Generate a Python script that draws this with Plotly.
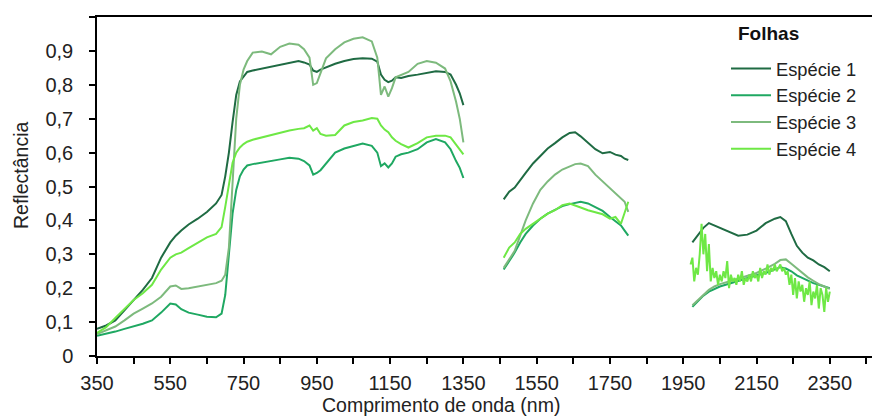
import plotly.graph_objects as go

# ---- data ----
wl_vis = [350, 375, 400, 425, 450, 475, 500, 525, 550, 565, 580, 600, 625, 650, 675, 690, 700, 710,
          720, 730, 740, 750, 760, 775, 800, 825, 850, 875, 900, 915, 930, 940, 950, 960, 975, 1000,
          1025, 1050, 1075, 1100, 1115, 1125, 1135, 1145, 1155, 1165, 1180, 1200, 1225, 1250, 1275,
          1300, 1315, 1330, 1340, 1350]
wl_swir1 = [1460, 1475, 1490, 1505, 1520, 1540, 1560, 1580, 1600, 1620, 1640, 1655, 1670, 1690,
            1710, 1730, 1750, 1765, 1780, 1790, 1800]
wl_swir2 = [1975, 1990, 2005, 2020, 2035, 2050, 2075, 2100, 2125, 2150, 2175, 2200, 2215, 2230,
            2245, 2260, 2275, 2290, 2305, 2320, 2335, 2350]
wl_swir2_fine = [1970, 1975, 1980, 1985, 1990, 1995, 2000, 2005, 2010, 2015, 2020, 2025, 2030, 2035,
                 2040, 2045, 2050, 2055, 2060, 2065, 2070, 2075, 2080, 2085, 2090, 2095, 2100, 2105,
                 2110, 2115, 2120, 2125, 2130, 2135, 2140, 2145, 2150, 2155, 2160, 2165, 2170, 2175,
                 2180, 2185, 2190, 2195, 2200, 2205, 2210, 2215, 2220, 2225, 2230, 2235, 2240, 2245,
                 2250, 2255, 2260, 2265, 2270, 2275, 2280, 2285, 2290, 2295, 2300, 2305, 2310, 2315,
                 2320, 2325, 2330, 2335, 2340, 2345, 2350]

sp1_vis = [0.080, 0.090, 0.105, 0.135, 0.165, 0.195, 0.230, 0.290, 0.335, 0.355, 0.370, 0.388, 0.405,
           0.425, 0.450, 0.475, 0.530, 0.600, 0.690, 0.770, 0.810, 0.825, 0.838, 0.842, 0.848, 0.852,
           0.858, 0.866, 0.870, 0.866, 0.860, 0.842, 0.838, 0.845, 0.852, 0.862, 0.870, 0.876, 0.878,
           0.877, 0.868, 0.830, 0.815, 0.808, 0.812, 0.822, 0.820, 0.826, 0.830, 0.834, 0.840, 0.838,
           0.830, 0.800, 0.775, 0.740]
sp2_vis = [0.060, 0.065, 0.072, 0.080, 0.087, 0.095, 0.105, 0.128, 0.155, 0.152, 0.138, 0.128, 0.122,
           0.116, 0.114, 0.125, 0.180, 0.300, 0.420, 0.490, 0.530, 0.550, 0.562, 0.566, 0.570, 0.574,
           0.580, 0.585, 0.582, 0.575, 0.562, 0.535, 0.540, 0.548, 0.568, 0.600, 0.612, 0.620, 0.627,
           0.620, 0.600, 0.560, 0.568, 0.556, 0.568, 0.588, 0.595, 0.600, 0.610, 0.630, 0.640, 0.630,
           0.610, 0.575, 0.555, 0.525]
sp3_vis = [0.065, 0.075, 0.087, 0.105, 0.125, 0.140, 0.155, 0.175, 0.205, 0.208, 0.198, 0.200, 0.205,
           0.210, 0.215, 0.222, 0.240, 0.320, 0.500, 0.700, 0.800, 0.845, 0.870, 0.895, 0.898, 0.890,
           0.912, 0.922, 0.918, 0.905, 0.880, 0.800, 0.805, 0.835, 0.878, 0.905, 0.925, 0.936, 0.940,
           0.928, 0.880, 0.770, 0.795, 0.765, 0.790, 0.822, 0.828, 0.838, 0.862, 0.870, 0.865, 0.848,
           0.810, 0.750, 0.700, 0.630]
sp4_vis = [0.068, 0.085, 0.112, 0.140, 0.165, 0.185, 0.210, 0.255, 0.290, 0.300, 0.305, 0.318, 0.335,
           0.350, 0.360, 0.380, 0.440, 0.510, 0.570, 0.600, 0.615, 0.625, 0.632, 0.638, 0.645, 0.652,
           0.660, 0.665, 0.670, 0.672, 0.680, 0.665, 0.672, 0.655, 0.650, 0.652, 0.680, 0.690, 0.695,
           0.702, 0.700, 0.680, 0.668, 0.660, 0.645, 0.635, 0.625, 0.615, 0.628, 0.645, 0.650, 0.650,
           0.645, 0.625, 0.610, 0.595]

sp1_s1 = [0.462, 0.485, 0.497, 0.520, 0.540, 0.568, 0.590, 0.612, 0.628, 0.645, 0.658, 0.660, 0.648,
          0.630, 0.610, 0.598, 0.602, 0.594, 0.590, 0.582, 0.578]
sp2_s1 = [0.255, 0.280, 0.305, 0.335, 0.360, 0.385, 0.405, 0.420, 0.432, 0.442, 0.448, 0.452, 0.455,
          0.450, 0.440, 0.428, 0.410, 0.398, 0.385, 0.370, 0.355]
sp3_s1 = [0.260, 0.285, 0.310, 0.355, 0.400, 0.450, 0.490, 0.515, 0.535, 0.550, 0.560, 0.566, 0.568,
          0.560, 0.535, 0.515, 0.495, 0.480, 0.465, 0.455, 0.425]
sp4_s1 = [0.290, 0.320, 0.335, 0.360, 0.375, 0.390, 0.405, 0.420, 0.430, 0.445, 0.450, 0.445, 0.438,
          0.430, 0.425, 0.418, 0.405, 0.410, 0.390, 0.420, 0.455]

sp1_s2 = [0.335, 0.355, 0.378, 0.392, 0.385, 0.378, 0.365, 0.355, 0.358, 0.370, 0.392, 0.405, 0.410,
          0.398, 0.360, 0.325, 0.305, 0.290, 0.282, 0.270, 0.262, 0.250]
sp2_s2 = [0.145, 0.162, 0.178, 0.190, 0.198, 0.205, 0.213, 0.222, 0.230, 0.238, 0.245, 0.255, 0.262,
          0.258, 0.250, 0.238, 0.230, 0.222, 0.215, 0.210, 0.205, 0.200]
sp3_s2 = [0.150, 0.165, 0.182, 0.195, 0.205, 0.212, 0.220, 0.228, 0.236, 0.245, 0.258, 0.272, 0.283,
          0.285, 0.272, 0.258, 0.245, 0.232, 0.222, 0.212, 0.205, 0.198]
sp4_s2 = [0.27, 0.29, 0.22, 0.26, 0.24, 0.30, 0.39, 0.30, 0.36, 0.25, 0.33, 0.22, 0.26, 0.23, 0.25,
          0.21, 0.24, 0.22, 0.25, 0.23, 0.28, 0.20, 0.24, 0.22, 0.23, 0.21, 0.24, 0.22, 0.25, 0.21,
          0.23, 0.22, 0.24, 0.22, 0.25, 0.23, 0.24, 0.22, 0.26, 0.23, 0.25, 0.24, 0.27, 0.24, 0.26,
          0.25, 0.27, 0.25, 0.26, 0.27, 0.25, 0.26, 0.24, 0.25, 0.21, 0.24, 0.18, 0.23, 0.17, 0.22,
          0.19, 0.21, 0.16, 0.20, 0.18, 0.22, 0.15, 0.19, 0.17, 0.21, 0.14, 0.20, 0.18, 0.13, 0.20,
          0.16, 0.19]

names = ["Espécie 1", "Espécie 2", "Espécie 3", "Espécie 4"]
colors = ["#1f6b43", "#1fa862", "#7dba7d", "#6ee845"]
legend_title = "Folhas"
x_title = "Comprimento de onda (nm)"
y_title = "Reflectância"

x_ticks = [350, 550, 750, 950, 1150, 1350, 1550, 1750, 1950, 2150, 2350]
x_minor = [450, 650, 850, 1050, 1250, 1450, 1650, 1850, 2050, 2250, 2450]

FONT = "Liberation Sans, Arial, sans-serif"
TXT = "#222222"

series = [
    (sp1_vis, sp1_s1, wl_swir2, sp1_s2),
    (sp2_vis, sp2_s1, wl_swir2, sp2_s2),
    (sp3_vis, sp3_s1, wl_swir2, sp3_s2),
    (sp4_vis, sp4_s1, wl_swir2_fine, sp4_s2),
]

fig = go.Figure()
for name, color, (yv, ys1, wl2, ys2) in zip(names, colors, series):
    xs = wl_vis + [None] + wl_swir1 + [None] + wl2
    ys = yv + [None] + ys1 + [None] + ys2
    fig.add_trace(go.Scatter(x=xs, y=ys, mode="lines", name=name,
                             line=dict(color=color, width=2), connectgaps=False))

# page body has an 8px margin: figure is 872x408, so it fills the 880x416 window
fig.update_layout(
    width=872, height=408,
    margin=dict(l=89, r=0, t=9, b=60),
    paper_bgcolor="white", plot_bgcolor="white",
    separators=",.",
    font=dict(family=FONT, size=19, color=TXT),
    showlegend=True,
    legend=dict(
        x=(731 - 5 - 97) / 783, y=1 - (50 - 17) / 339, xanchor="left", yanchor="top",
        bgcolor="rgba(0,0,0,0)", borderwidth=0,
        font=dict(family=FONT, size=18.3, color=TXT),
        itemwidth=40, tracegroupgap=0,
    ),
    xaxis=dict(
        range=[350, 2487], tickvals=x_ticks, ticks="outside", ticklen=6, tickwidth=1.5,
        tickcolor="black", showline=True, linecolor="black", linewidth=1.5, mirror=True,
        showgrid=False, zeroline=False, ticklabelstandoff=2,
        minor=dict(tickvals=x_minor, ticks="outside", ticklen=6, tickwidth=1.5,
                   tickcolor="black", showgrid=False),
        tickfont=dict(family=FONT, size=20, color=TXT),
    ),
    yaxis=dict(
        range=[0, 1], dtick=0.1, tick0=0, ticks="outside", ticklen=6, tickwidth=1.5,
        tickcolor="black", showline=True, linecolor="black", linewidth=1.5,
        showgrid=False, zeroline=False, ticklabelstandoff=12,
        tickfont=dict(family=FONT, size=20, color=TXT),
    ),
    annotations=[
        dict(text="<b>" + legend_title + "</b>", xref="paper", yref="paper",
             x=(736 - 97) / 783, y=(356 - 33) / 339, xanchor="left", yanchor="middle",
             showarrow=False, font=dict(family=FONT, size=19, color="#111111")),
        dict(text=x_title, xref="paper", yref="paper",
             x=(441 - 97) / 783, y=-(405 - 356) / 339, xanchor="center", yanchor="middle",
             showarrow=False, font=dict(family=FONT, size=19.5, color=TXT)),
        dict(text=y_title, xref="paper", yref="paper", textangle=-90,
             x=-(97 - 21) / 783, y=(356 - 176) / 339, xanchor="center", yanchor="middle",
             showarrow=False, font=dict(family=FONT, size=19.5, color=TXT)),
    ],
)

fig.write_html("out.html")
